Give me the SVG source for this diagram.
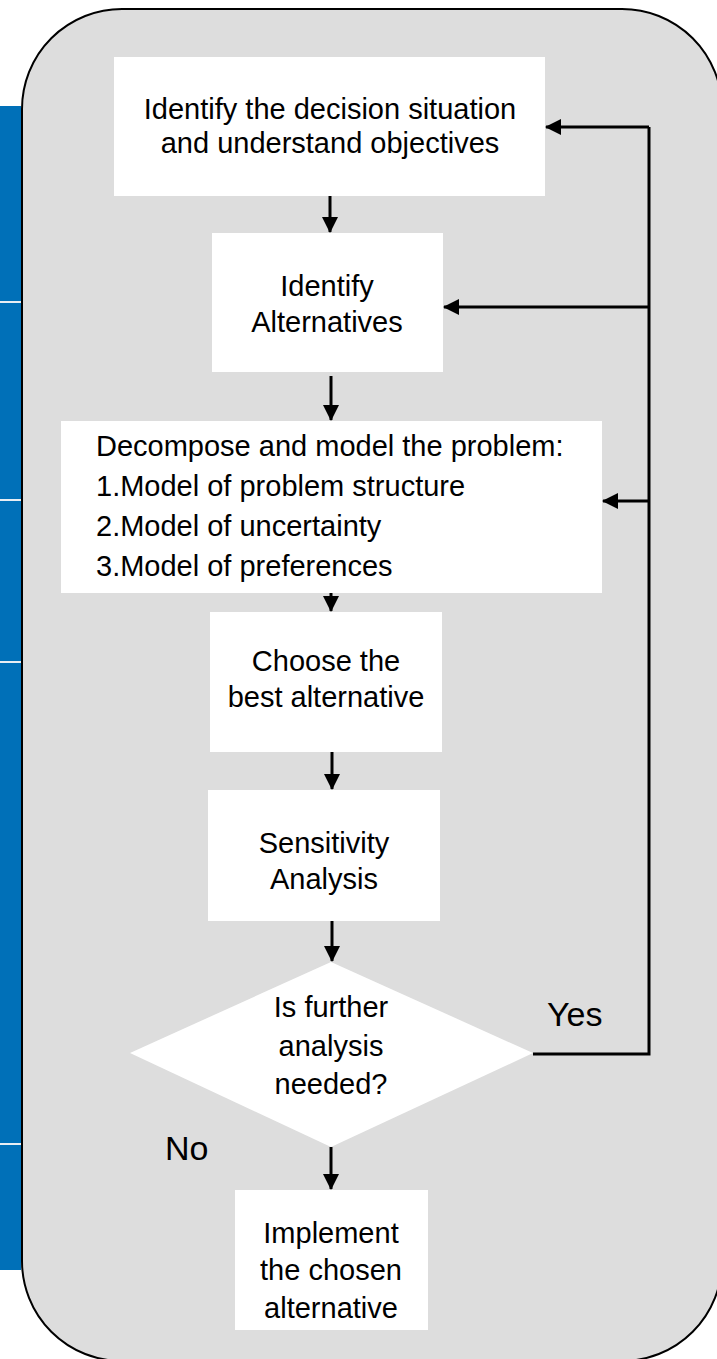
<svg xmlns="http://www.w3.org/2000/svg" width="717" height="1359" viewBox="0 0 717 1359">
  <defs>
    <marker id="arrow" viewBox="0 0 16 16" refX="15" refY="8" markerWidth="16" markerHeight="16" markerUnits="userSpaceOnUse" orient="auto">
      <path d="M0,0 L16,8 L0,16 Z" fill="#000"/>
    </marker>
    <style>
      .lbl { font-family: "Liberation Sans", Arial, sans-serif; font-size: 29px; fill: #000; }
      .mid { text-anchor: middle; }
      .tag { font-family: "Liberation Sans", Arial, sans-serif; font-size: 34px; fill: #000; }
      .box { fill: #fff; stroke: none; }
      .conn { fill: none; stroke: #000; stroke-width: 3; }
      .sep { stroke: #e8eef4; stroke-width: 2; }
    </style>
  </defs>

  <!-- side band -->
  <g id="sideband">
    <rect x="0" y="106" width="21" height="1164" fill="#0070b8"/>
    <line class="sep" x1="0" y1="302" x2="21" y2="302"/>
    <line class="sep" x1="0" y1="500" x2="21" y2="500"/>
    <line class="sep" x1="0" y1="662" x2="21" y2="662"/>
    <line class="sep" x1="0" y1="1144" x2="21" y2="1144"/>
  </g>

  <!-- rounded panel -->
  <g id="panel">
    <rect x="22" y="9" width="700" height="1352" rx="100" ry="100" fill="#dddddd" stroke="#000" stroke-width="2"/>
  </g>

  <g id="node-identify-situation">
    <rect class="box" x="114" y="57" width="431" height="139"/>
    <text class="lbl mid" x="330" y="119">Identify the decision situation</text>
    <text class="lbl mid" x="330" y="153">and understand objectives</text>
  </g>

  <g id="node-alternatives">
    <rect class="box" x="212" y="233" width="231" height="139"/>
    <text class="lbl mid" x="327" y="296">Identify</text>
    <text class="lbl mid" x="327" y="332">Alternatives</text>
  </g>

  <g id="node-decompose">
    <rect class="box" x="61" y="421" width="541" height="172"/>
    <text class="lbl" x="96" y="456">Decompose and model the problem:</text>
    <text class="lbl" x="96" y="496">1.Model of problem structure</text>
    <text class="lbl" x="96" y="536">2.Model of uncertainty</text>
    <text class="lbl" x="96" y="576">3.Model of preferences</text>
  </g>

  <g id="node-choose">
    <rect class="box" x="210" y="612" width="232" height="140"/>
    <text class="lbl mid" x="326" y="671">Choose the</text>
    <text class="lbl mid" x="326" y="707">best alternative</text>
  </g>

  <g id="node-sensitivity">
    <rect class="box" x="208" y="790" width="232" height="131"/>
    <text class="lbl mid" x="324" y="853">Sensitivity</text>
    <text class="lbl mid" x="324" y="889">Analysis</text>
  </g>

  <g id="node-further">
    <polygon class="box" points="331,962 533,1053 331,1147 130,1053"/>
    <text class="lbl mid" x="331" y="1017">Is further</text>
    <text class="lbl mid" x="331" y="1056">analysis</text>
    <text class="lbl mid" x="331" y="1094">needed?</text>
  </g>

  <g id="node-implement">
    <rect class="box" x="235" y="1190" width="193" height="140"/>
    <text class="lbl mid" x="331" y="1243">Implement</text>
    <text class="lbl mid" x="331" y="1280">the chosen</text>
    <text class="lbl mid" x="331" y="1318">alternative</text>
  </g>

  <g id="connectors">
    <line class="conn" x1="330" y1="196" x2="330" y2="232" marker-end="url(#arrow)"/>
    <line class="conn" x1="331" y1="376" x2="331" y2="420" marker-end="url(#arrow)"/>
    <line class="conn" x1="331" y1="593" x2="331" y2="611" marker-end="url(#arrow)"/>
    <line class="conn" x1="332" y1="752" x2="332" y2="789" marker-end="url(#arrow)"/>
    <line class="conn" x1="332" y1="921" x2="332" y2="961" marker-end="url(#arrow)"/>
    <line class="conn" x1="331" y1="1147" x2="331" y2="1189" marker-end="url(#arrow)"/>
    <!-- feedback loop from the decision back up -->
    <polyline class="conn" points="533,1054 649,1054 649,127"/>
    <line class="conn" x1="649" y1="127" x2="546" y2="127" marker-end="url(#arrow)"/>
    <line class="conn" x1="649" y1="307" x2="444" y2="307" marker-end="url(#arrow)"/>
    <line class="conn" x1="649" y1="501" x2="603" y2="501" marker-end="url(#arrow)"/>
    <text class="tag" x="547" y="1026">Yes</text>
    <text class="tag" x="165" y="1160">No</text>
  </g>
</svg>
